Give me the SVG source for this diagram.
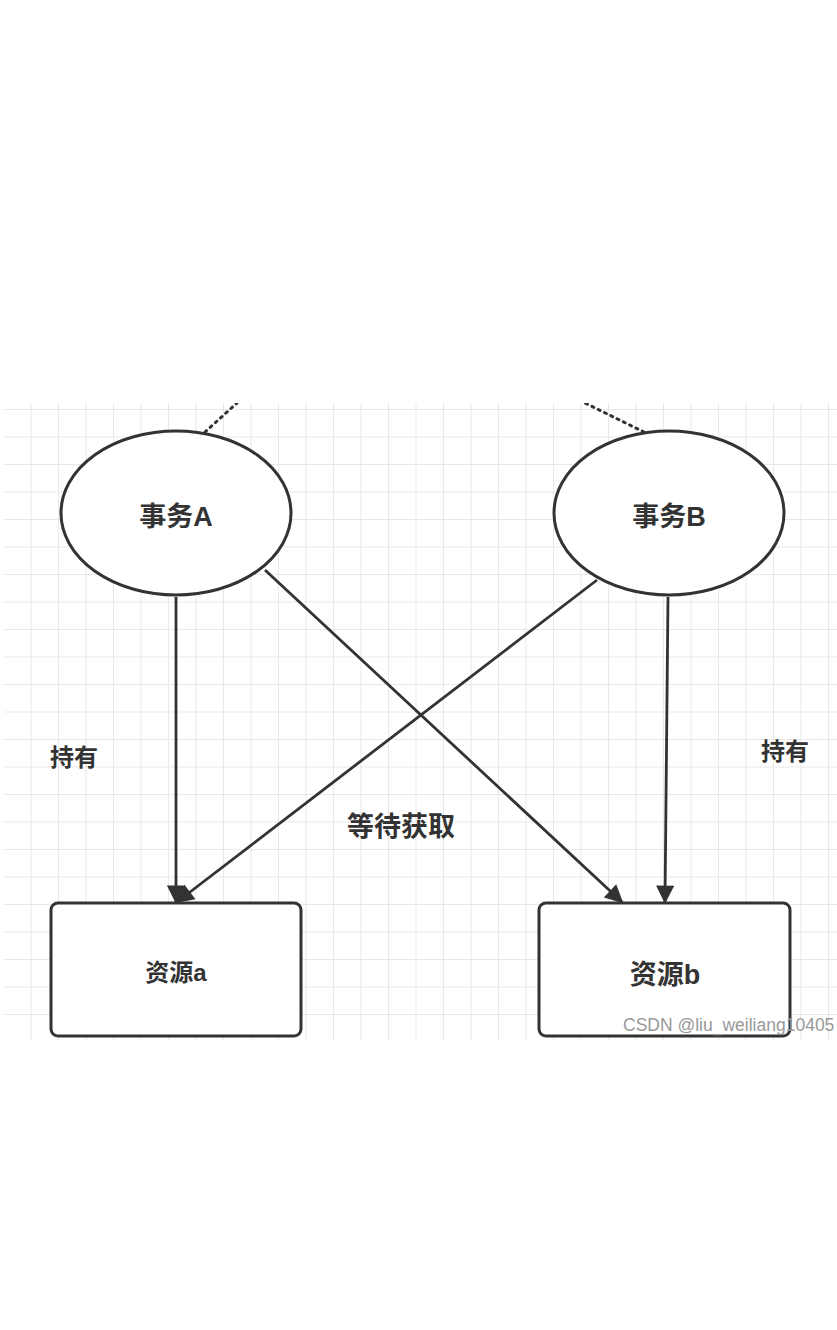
<svg xmlns="http://www.w3.org/2000/svg" width="837" height="1330" viewBox="0 0 837 1330">
<defs>
<pattern id="grid" x="4" y="410" width="27.5" height="27.5" patternUnits="userSpaceOnUse">
<path d="M27.5 0V27.5M0 27.5H27.5" fill="none" stroke="#e2e2e2" stroke-width="1.5"/>
</pattern>
<marker id="arr" viewBox="0 0 10 10" refX="9" refY="5" markerWidth="7.5" markerHeight="6.5" markerUnits="strokeWidth" orient="auto">
<path d="M0 0L10 5L0 10z" fill="#333"/>
</marker>
<clipPath id="clip"><rect x="4" y="403" width="833" height="638"/></clipPath>
</defs>
<style>
.shape{fill:#fff;stroke:#333;stroke-width:3}
.edge{fill:none;stroke:#333;stroke-width:2.8;marker-end:url(#arr)}
.dot{fill:none;stroke:#333;stroke-width:3;stroke-dasharray:2 5;stroke-linecap:round}
.t{font-family:"Liberation Sans","Noto Sans CJK SC",sans-serif;font-weight:bold;fill:#333;text-anchor:middle}
</style>
<rect width="837" height="1330" fill="#fff"/>
<rect x="4" y="403" width="833" height="638" fill="url(#grid)"/>
<g id="connectors" clip-path="url(#clip)">
<line class="dot" x1="205" y1="432" x2="237" y2="403"/>
<line class="dot" x1="644" y1="432" x2="585" y2="403"/>
<line class="edge" x1="176" y1="597" x2="176" y2="902"/>
<line class="edge" x1="265" y1="570" x2="622" y2="902"/>
<line class="edge" x1="597" y1="580" x2="177" y2="902"/>
<line class="edge" x1="668" y1="597" x2="665" y2="902"/>
</g>
<g id="nodeA"><ellipse class="shape" cx="176" cy="513" rx="115" ry="82"/><text class="t" x="176" y="526" font-size="27">事务A</text></g>
<g id="nodeB"><ellipse class="shape" cx="669" cy="513" rx="115" ry="82"/><text class="t" x="669" y="526" font-size="27">事务B</text></g>
<g id="resA"><rect class="shape" x="51" y="903" width="250" height="133" rx="7"/><text class="t" x="176" y="981" font-size="24">资源a</text></g>
<g id="resB"><rect class="shape" x="539" y="903" width="251" height="133" rx="7"/><text class="t" x="665" y="984" font-size="27">资源b</text></g>
<g id="labels">
<text class="t" x="74" y="766" font-size="24">持有</text>
<text class="t" x="785" y="760" font-size="24">持有</text>
<text class="t" x="401" y="836" font-size="27">等待获取</text>
</g>
<text x="623" y="1031" font-family="Liberation Sans,sans-serif" font-size="17.5" fill="#999" clip-path="url(#clip)">CSDN @liu_weiliang10405</text>
</svg>
